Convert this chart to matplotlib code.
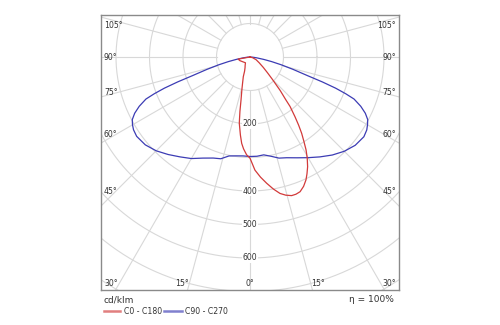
import numpy as np
import matplotlib.pyplot as plt
from matplotlib.lines import Line2D

# luminous intensity (cd/klm) vs. gamma angle from nadir, per C-plane half
red_c0_angles = [0, 2.5, 5, 7.5, 10, 12.4, 14.5, 16.7, 18.5, 20.4, 22.5, 24.5, 26, 27.7, 29.5,
                 31.1, 32.5, 34.1, 35.5, 37, 39, 40, 42, 45, 48, 52, 58, 66, 75, 90]
red_c0_vals = [302, 338, 360, 380, 400, 417, 426, 432, 432, 429, 418, 403, 388, 370, 347,
               324, 300, 275, 250, 223, 190, 165, 135, 95, 70, 50, 32, 20, 8, 0]
red_c180_angles = [0, 2, 4, 5.5, 7, 9.2, 10.5, 11.8, 14, 16, 18.8, 21, 25, 30, 38, 50, 60, 70, 80, 90]
red_c180_vals = [302, 292, 275, 259, 235, 200, 165, 131, 100, 80, 62, 45, 35, 29, 22, 24, 27, 32, 36, 0]

blue_c90_angles = [0, 4, 8, 12, 16, 20, 25, 30, 35, 40, 45, 50, 55, 58, 60, 62, 64, 66,
                   68, 69, 70, 71, 72, 74, 76, 78, 80, 83, 86, 90]
blue_c90_vals = [297, 297, 295, 303, 314, 320, 332, 347, 364, 382, 398, 410, 415, 411, 405, 398, 383, 362,
                 335, 306, 272, 228, 182, 133, 96, 66, 42, 20, 8, 0]
blue_c270_angles = [0, 4, 8, 12, 16, 20, 25, 30, 35, 40, 45, 50, 55, 58, 60, 62, 64, 66,
                    68, 69, 70, 71, 72, 74, 76, 78, 80, 83, 86, 90]
blue_c270_vals = [297, 296, 298, 302, 316, 321, 333, 350, 364, 380, 396, 408, 413, 410, 405, 398, 383, 362,
                  335, 306, 272, 228, 182, 133, 96, 66, 42, 20, 8, 0]

ring_values = [100, 200, 300, 400, 500, 600, 700, 800]
ring_labels = [200, 400, 500, 600]
side_angles = [105, 90, 75, 60, 45]
bottom_angles = [30, 15, 0, 15, 30]
series_names = ['C0 - C180', 'C90 - C270']
eta_text = 'η = 100%'
unit_text = 'cd/klm'

RED = '#d23a3a'
BLUE = '#3c3cb4'
GRID = '#d8d8d8'
TXT = '#333333'


def to_xy(angles_pos, vals_pos, angles_neg, vals_neg):
    g = np.concatenate([-np.array(angles_neg[::-1], float), np.array(angles_pos, float)])
    r = np.concatenate([np.array(vals_neg[::-1], float), np.array(vals_pos, float)])
    t = np.radians(g)
    return r * np.sin(t), -r * np.cos(t)


fig = plt.figure(figsize=(5, 3.25), dpi=100)
ax = fig.add_axes([101 / 500, 35 / 325, 298 / 500, 275 / 325])
px = 100 / 33.5  # data units per pixel
ax.set_xlim(-149 * px, 149 * px)
ax.set_ylim(-233 * px, 42 * px)
ax.set_xticks([])
ax.set_yticks([])
for s in ax.spines.values():
    s.set_color('#8a8a8a')
    s.set_linewidth(1.0)

# grid: rings and spokes every 15 degrees outside the first ring
tt = np.linspace(0, 2 * np.pi, 400)
for rv in ring_values:
    ax.plot(rv * np.cos(tt), rv * np.sin(tt), color=GRID, lw=0.8, zorder=1)
for a in range(0, 360, 15):
    t = np.radians(a)
    ax.plot([100 * np.sin(t), 1000 * np.sin(t)], [-100 * np.cos(t), -1000 * np.cos(t)],
            color=GRID, lw=0.8, zorder=1)

for rv in ring_labels:
    ax.text(0, -rv, str(rv), ha='center', va='center', fontsize=5.6, color=TXT, zorder=2,
            bbox=dict(boxstyle='square,pad=0.1', fc='white', ec='none'))

x0, x1 = ax.get_xlim()
y0, y1 = ax.get_ylim()
for a in side_angles:
    yl = -149 * px / np.tan(np.radians(a)) * 0.9 if a != 90 else 0
    if a == 105:
        yl = 32 * px
    ax.text(x0 + 3 * px, yl, f'{a}°', ha='left', va='center', fontsize=5.6, color=TXT, zorder=2)
    ax.text(x1 - 3 * px, yl, f'{a}°', ha='right', va='center', fontsize=5.6, color=TXT, zorder=2)
for i, a in enumerate(bottom_angles):
    side = -1 if i < 2 else 1
    xl = side * min(233 * px * np.tan(np.radians(a)) * 1.09, 139 * px)
    ax.text(xl, y0 + 7 * px, f'{a}°', ha='center', va='center', fontsize=5.6, color=TXT, zorder=2)

bx, by = to_xy(blue_c90_angles, blue_c90_vals, blue_c270_angles, blue_c270_vals)
ax.plot(bx, by, color=BLUE, lw=0.9, zorder=3)
rx, ry = to_xy(red_c0_angles, red_c0_vals, red_c180_angles, red_c180_vals)
ax.plot(rx, ry, color=RED, lw=0.9, zorder=4)

# footer: unit, legend and efficiency
fig.text(104 / 500, 1 - 300 / 325, unit_text, ha='left', va='center', fontsize=6.5, color=TXT)
fig.text(394 / 500, 1 - 300 / 325, eta_text, ha='right', va='center', fontsize=6.5, color=TXT)
for (xa, xb, xt), name, col in zip([(104, 120, 124), (164, 182, 185)], series_names, [RED, BLUE]):
    fig.add_artist(Line2D([xa / 500, xb / 500], [1 - 311 / 325] * 2, color=col, lw=1.8,
                          alpha=0.65, transform=fig.transFigure))
    fig.text(xt / 500, 1 - 311 / 325, name, ha='left', va='center', fontsize=5.6, color=TXT)

fig.savefig('out.png', dpi=100)
